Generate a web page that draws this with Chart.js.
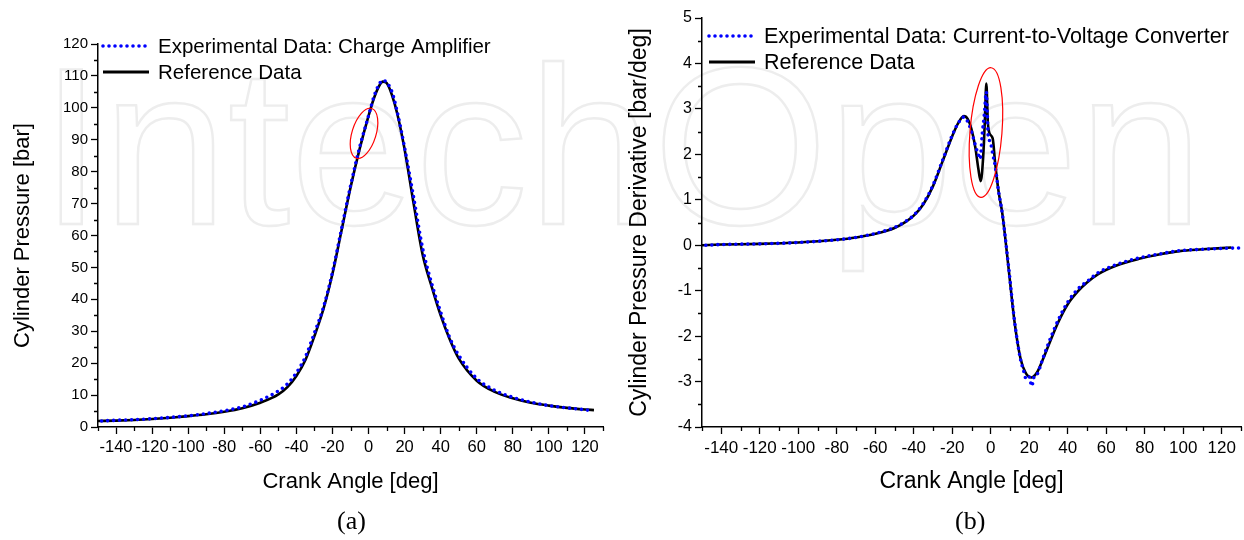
<!DOCTYPE html>
<html><head><meta charset="utf-8">
<script src="https://cdn.jsdelivr.net/npm/chart.js@4.4.1/dist/chart.umd.min.js"></script>
<style>
html,body{margin:0;padding:0;background:#fff;width:1244px;height:540px;overflow:hidden;}
body{position:relative;font-family:"Liberation Sans",Arial,sans-serif;}
#wm{position:absolute;left:40px;top:34px;font-family:"Liberation Sans",Arial,sans-serif;font-size:225px;line-height:225px;color:transparent;-webkit-text-stroke:2.4px #ededed;white-space:nowrap;z-index:0;}
.box{position:absolute;top:0;height:540px;z-index:1;}
#boxA{left:0;width:620px;}
#boxB{left:620px;width:624px;}
.cap{position:absolute;top:506px;font-family:"Liberation Serif","DejaVu Serif",serif;font-size:26px;color:#000;z-index:2;}
</style></head>
<body>
<div id="wm">IntechOpen</div>
<div class="box" id="boxA"><canvas id="cA" width="620" height="540"></canvas></div>
<div class="box" id="boxB"><canvas id="cB" width="624" height="540"></canvas></div>
<div class="cap" style="left:337px">(a)</div>
<div class="cap" style="left:955px">(b)</div>
<script>
// ---------- DATA ----------
const xTickLabels = [-140,-120,-100,-80,-60,-40,-20,0,20,40,60,80,100,120];
const yTickLabelsA = [0,10,20,30,40,50,60,70,80,90,100,110,120];
const yTickLabelsB = [-4,-3,-2,-1,0,1,2,3,4,5];

// (a) Cylinder pressure
const angleRefA = [-150,-140,-130,-120,-110,-100,-90,-80,-70,-60,-50,-45,-40,-35,-30,-25,-20,-15,-10,-5,0,3,6,8,10,13,16,20,25,30,35,40,45,50,60,70,80,90,100,110,120,125];
const pressureRef = [1.9,2.0,2.2,2.5,2.9,3.4,4.0,4.8,5.9,7.6,10.2,12.5,16.0,21,28.5,37,48,61.5,75,87,97.5,103,107,108.2,107.8,104,98,87,70,54,44,35,27.5,21.5,14.5,11,9,7.6,6.7,6.0,5.5,5.3];
const angleExpA = [-148,-140,-130,-120,-110,-100,-90,-80,-70,-60,-50,-45,-40,-35,-30,-25,-20,-15,-10,-5,0,3,6,8,10,13,16,20,25,30,35,40,45,50,60,70,80,90,100,110,120,124];
const pressureExp = [1.9,2.1,2.3,2.6,3.0,3.5,4.2,5.1,6.3,8.4,11.3,13.5,17,22,29.5,37.5,48.5,62,75.5,87.5,97.5,103.5,107.5,108.6,108,105,98.5,87.5,72,56,45,36,28,22.5,15.2,11.5,9.3,7.8,6.7,6.0,5.4,5.1];

// (b) Cylinder pressure derivative
const angleRefB = [-150,-140,-120,-100,-80,-70,-60,-50,-44,-40,-35,-30,-25,-20,-17,-14,-12,-10,-8,-6.5,-5.2,-4,-3,-2.3,-1.5,-0.5,1,2.3,4,6,9.2,12.3,15.4,18,21,24,27,31,35,40,45.6,50,56,65,77,88,98,110,125];
const derivRef = [0.0,0.015,0.03,0.06,0.12,0.17,0.25,0.38,0.52,0.65,0.9,1.3,1.85,2.4,2.68,2.84,2.78,2.55,2.15,1.7,1.41,1.9,2.8,3.56,2.7,2.45,2.35,1.8,1.2,0.7,-0.48,-1.67,-2.48,-2.8,-2.91,-2.8,-2.52,-2.1,-1.7,-1.3,-1.0,-0.82,-0.63,-0.45,-0.3,-0.2,-0.13,-0.09,-0.05];
const angleExpB = [-148,-140,-120,-100,-80,-70,-60,-50,-44,-40,-35,-30,-25,-20,-17,-14,-12,-10,-8,-6.5,-5.5,-4.4,-3.3,-2.3,-1.8,-1.25,-0.5,0.2,1.25,2.3,4,6,9.2,12.3,15.4,17,18.5,20,21.3,22.5,24,27,31,35,40,45.6,50,56,65,77,88,98,110,120,129];
const derivExp = [0.0,0.015,0.03,0.06,0.12,0.17,0.26,0.39,0.53,0.66,0.92,1.32,1.87,2.42,2.68,2.82,2.72,2.5,2.2,2.0,1.9,2.45,2.9,3.37,2.9,2.35,2.3,2.2,1.96,1.75,1.2,0.7,-0.45,-1.65,-2.5,-2.75,-2.95,-2.9,-3.1,-2.9,-2.85,-2.5,-2.05,-1.65,-1.25,-0.95,-0.8,-0.6,-0.43,-0.28,-0.19,-0.12,-0.09,-0.07,-0.06];

// ---------- HELPERS ----------
const FONT = '"Liberation Sans", Arial, sans-serif';
const pts = (xs, ys) => xs.map((x, i) => ({x, y: ys[i]}));
const mids = arr => arr.slice(0, -1).map((v, i) => (v + arr[i + 1]) / 2);

const minorTicks = {
  id: 'minorTicks',
  afterDraw(chart, args, o) {
    const {ctx, chartArea: ca, scales: {x, y}} = chart;
    ctx.save();
    ctx.strokeStyle = '#000';
    ctx.lineWidth = 1.3;
    ctx.beginPath();
    o.xMinor.forEach(v => { const p = Math.round(x.getPixelForValue(v)) + 0.5; ctx.moveTo(p, ca.bottom); ctx.lineTo(p, ca.bottom + 4); });
    o.yMinor.forEach(v => { const p = Math.round(y.getPixelForValue(v)) + 0.5; ctx.moveTo(ca.left, p); ctx.lineTo(ca.left - 4, p); });
    ctx.stroke();
    ctx.restore();
  }
};

const ellipsePlugin = {
  id: 'ellipses',
  afterDatasetsDraw(chart, args, o) {
    const {ctx, scales: {x, y}} = chart;
    ctx.save();
    ctx.strokeStyle = '#ff0000';
    ctx.lineWidth = 1.2;
    o.items.forEach(e => {
      ctx.beginPath();
      ctx.ellipse(x.getPixelForValue(e.cx), y.getPixelForValue(e.cy), e.rx, e.ry, e.rot, 0, Math.PI * 2);
      ctx.stroke();
    });
    ctx.restore();
  }
};

const legendPlugin = {
  id: 'customLegend',
  afterDraw(chart, args, o) {
    const ctx = chart.ctx;
    ctx.save();
    ctx.font = o.size + 'px ' + FONT;
    ctx.fillStyle = '#000';
    ctx.textBaseline = 'middle';
    o.items.forEach((it, i) => {
      const yy = o.y + i * o.dy;
      ctx.beginPath();
      ctx.strokeStyle = it.color;
      ctx.lineWidth = it.width;
      ctx.lineCap = it.dash ? 'round' : 'butt';
      ctx.setLineDash(it.dash || []);
      ctx.moveTo(o.x, yy);
      ctx.lineTo(o.x + o.len, yy);
      ctx.stroke();
      ctx.setLineDash([]);
      ctx.fillText(it.label, o.x + o.len + 9, yy + 1);
    });
    ctx.restore();
  }
};

function makeChart(id, cfg) {
  return new Chart(document.getElementById(id), {
    type: 'line',
    data: {
      datasets: [
        { label: cfg.expLabel, data: pts(cfg.expX, cfg.expY), borderColor: '#0000ff', borderWidth: 3.6,
          borderDash: [0, 6], borderCapStyle: 'round', pointRadius: 0, cubicInterpolationMode: 'monotone', fill: false },
        { label: 'Reference Data', data: pts(cfg.refX, cfg.refY), borderColor: '#000', borderWidth: 2.6,
          pointRadius: 0, cubicInterpolationMode: 'monotone', fill: false }
      ]
    },
    options: {
      responsive: false, animation: false,
      layout: { padding: { left: 0, right: cfg.padRight, top: cfg.padTop, bottom: 0 } },
      plugins: {
        legend: { display: false }, tooltip: { enabled: false },
        minorTicks: { xMinor: mids(xTickLabels).concat([-150, 130]), yMinor: mids(cfg.yTicks) },
        ellipses: { items: cfg.ellipses },
        customLegend: { x: cfg.legX, y: cfg.legY, dy: cfg.legDy, len: 46, size: cfg.legSize, items: [
          { label: cfg.expLabel, color: '#0000ff', width: 3.6, dash: [0, 6] },
          { label: 'Reference Data', color: '#000', width: 2.8 }
        ] }
      },
      scales: {
        x: {
          type: 'linear', min: -150, max: 130,
          afterBuildTicks: s => { s.ticks = xTickLabels.map(v => ({ value: v })); },
          afterFit: s => { s.height = 113; },
          border: { display: true, color: '#000', width: 1.5 },
          grid: { drawOnChartArea: false, drawTicks: true, tickLength: 7, tickColor: '#000', tickWidth: 1.3 },
          ticks: { font: { family: FONT, size: cfg.xTickSize }, color: '#000', padding: 4, maxRotation: 0, autoSkip: false },
          title: { display: true, text: 'Crank Angle [deg]', font: { family: FONT, size: cfg.titleSize }, color: '#000',
                   padding: { top: 0, bottom: 58 - cfg.titleSize * 0.6 } }
        },
        y: {
          type: 'linear', min: cfg.yMin, max: cfg.yMax,
          afterBuildTicks: s => { s.ticks = cfg.yTicks.map(v => ({ value: v })); },
          afterFit: s => { s.width = cfg.yWidth; },
          border: { display: true, color: '#000', width: 1.5 },
          grid: { drawOnChartArea: false, drawTicks: true, tickLength: 7, tickColor: '#000', tickWidth: 1.3 },
          ticks: { font: { family: FONT, size: cfg.yTickSize }, color: '#000', padding: 3, autoSkip: false },
          title: { display: true, text: cfg.yTitle, font: { family: FONT, size: cfg.titleSize }, color: '#000',
                   padding: { top: cfg.yTitleCenter - cfg.titleSize * 0.6, bottom: 0 } }
        }
      }
    },
    plugins: [minorTicks, ellipsePlugin, legendPlugin]
  });
}

makeChart('cA', {
  expX: angleExpA, expY: pressureExp, refX: angleRefA, refY: pressureRef,
  expLabel: 'Experimental Data: Charge Amplifier',
  yMin: 0, yMax: 120, yTicks: yTickLabelsA, yWidth: 98, padRight: 17, padTop: 44,
  yTitle: 'Cylinder Pressure [bar]', yTitleCenter: 23, titleSize: 22,
  xTickSize: 16.5, yTickSize: 15,
  legX: 103, legY: 46, legDy: 26, legSize: 20.5,
  ellipses: [{ cx: -2.5, cy: 92, rx: 12, ry: 26, rot: 0.3 }]
});

makeChart('cB', {
  expX: angleExpB, expY: derivExp, refX: angleRefB, refY: derivRef,
  expLabel: 'Experimental Data: Current-to-Voltage Converter',
  yMin: -4, yMax: 5, yTicks: yTickLabelsB, yWidth: 82, padRight: 3, padTop: 18,
  yTitle: 'Cylinder Pressure Derivative [bar/deg]', yTitleCenter: 20, titleSize: 23,
  xTickSize: 17, yTickSize: 16,
  legX: 89, legY: 36, legDy: 26, legSize: 21.5,
  ellipses: [{ cx: -2.5, cy: 2.48, rx: 16, ry: 65, rot: 0.08 }]
});
</script>
</body></html>
